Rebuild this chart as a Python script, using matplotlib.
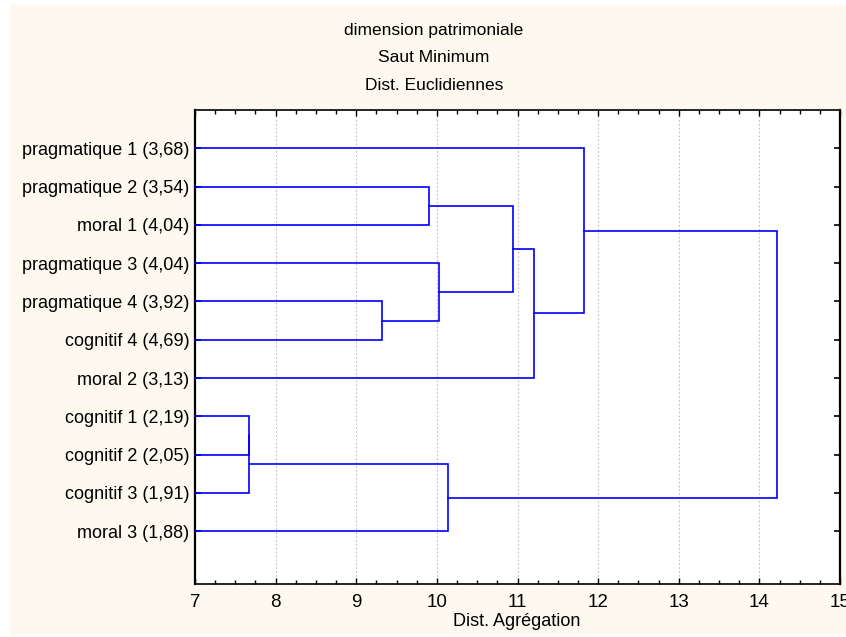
import matplotlib
matplotlib.use('Agg')
import matplotlib.pyplot as plt
from matplotlib.patches import Rectangle
from matplotlib.ticker import MultipleLocator

leaves = ['pragmatique 1 (3,68)', 'pragmatique 2 (3,54)', 'moral 1 (4,04)',
          'pragmatique 3 (4,04)', 'pragmatique 4 (3,92)', 'cognitif 4 (4,69)',
          'moral 2 (3,13)', 'cognitif 1 (2,19)', 'cognitif 2 (2,05)',
          'cognitif 3 (1,91)', 'moral 3 (1,88)']

# merges: (cluster a, cluster b, linkage distance); new clusters get ids 11, 12, ...
merge_a = [1, 4, 3, 11, 14, 0, 7, 17, 18, 16]
merge_b = [2, 5, 12, 13, 6, 15, 8, 9, 10, 19]
merge_h = [9.90, 9.32, 10.03, 10.94, 11.21, 11.82, 7.67, 7.67, 10.14, 14.22]

titles = ['dimension patrimoniale', 'Saut Minimum', 'Dist. Euclidiennes']
xlabel = 'Dist. Agrégation'

W, H = 846, 637
plt.rcParams['font.family'] = ['Liberation Sans', 'DejaVu Sans']
fig = plt.figure(figsize=(W / 100, H / 100), dpi=100, facecolor='white')
fig.patches.append(Rectangle((10 / W, 2 / H), 1, 630 / H, transform=fig.transFigure,
                             facecolor='#fdf9ee', edgecolor='none', zorder=-10))

ax = fig.add_axes([195 / W, 1 - 584 / H, (840 - 195) / W, (584 - 110) / H])
ax.set_facecolor('white')

xmin = 7
ypos = {i: i + 1 for i in range(len(leaves))}
xpos = {i: xmin for i in range(len(leaves))}
nid = len(leaves)
for a, b, h in zip(merge_a, merge_b, merge_h):
    ya, yb = ypos[a], ypos[b]
    ax.plot([xpos[a], h, h, xpos[b]], [ya, ya, yb, yb], color='#0000ff', lw=1.2,
            solid_joinstyle='miter', zorder=3, clip_on=False)
    ypos[nid] = (ya + yb) / 2
    xpos[nid] = h
    nid += 1

ax.set_xlim(7, 15)
ax.set_ylim(12.38, 0.0)
ax.xaxis.set_major_locator(MultipleLocator(1))
ax.xaxis.set_minor_locator(MultipleLocator(0.25))
ax.set_yticks(range(1, len(leaves) + 1))
ax.set_yticklabels(leaves, fontsize=13)
ax.tick_params(axis='x', which='major', direction='in', length=4, width=1, top=True,
               labelsize=13.5, pad=7)
ax.tick_params(axis='x', which='minor', direction='in', length=3, width=1, top=True)
ax.tick_params(axis='y', direction='in', length=4, width=1.2, right=True, pad=4)
ax.grid(axis='x', which='major', color='#bdbdbd', ls=(0, (1.5, 2)), lw=0.8)
for side in ['left', 'right']:
    ax.spines[side].set_linewidth(1.6)
for side in ['top', 'bottom']:
    ax.spines[side].set_linewidth(1.2)

for t, y in zip(titles, [30, 58, 86]):
    fig.text(434 / W, 1 - y / H, t, ha='center', va='center', fontsize=12.5)
fig.text(517 / W, 1 - 622 / H, xlabel, ha='center', va='center', fontsize=13)

fig.savefig('out.png', dpi=100)
